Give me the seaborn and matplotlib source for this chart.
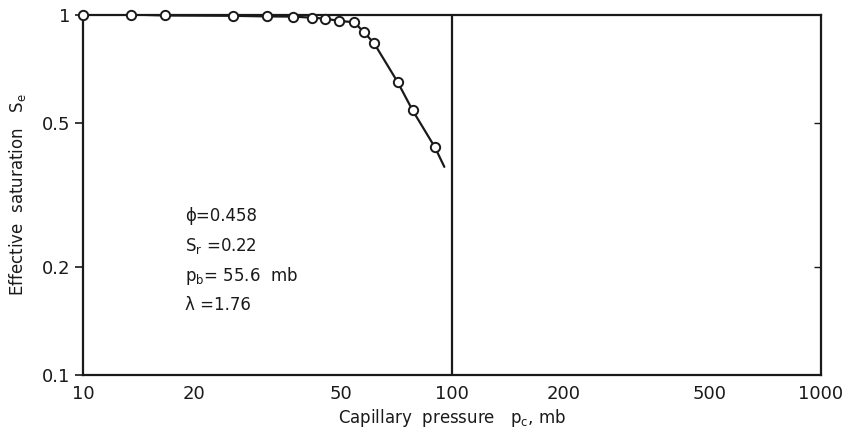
import matplotlib
matplotlib.use("Agg")
import matplotlib.pyplot as plt
import seaborn as sns
import pandas as pd

# Measured data (capillary pressure in mb, effective saturation)
pressure = [10.0, 13.5, 16.7, 25.5, 31.6, 37.1, 41.8, 45.3, 49.5, 54.3, 57.8, 61.5, 71.2, 78.2, 89.9]
saturation = [1.0, 1.0, 0.994, 0.992, 0.988, 0.987, 0.980, 0.974, 0.960, 0.952, 0.892, 0.832, 0.650, 0.542, 0.428]

# Drawn curve (through the points, extended slightly beyond the last one)
curve_p = pressure + [95.3]
curve_s = saturation + [0.378]

x_ticks = [10, 20, 50, 100, 200, 500, 1000]
x_tick_labels = ["10", "20", "50", "100", "200", "500", "1000"]
y_ticks = [0.1, 0.2, 0.5, 1.0]
y_tick_labels = ["0.1", "0.2", "0.5", "1"]
ref_pressure = 100

params = ["ϕ=0.458", r"S$_\mathrm{r}$ =0.22", r"p$_\mathrm{b}$= 55.6  mb", "λ =1.76"]

sns.set_theme(style="white")
plt.rcParams["font.family"] = ["DejaVu Sans"]
plt.rcParams["mathtext.fontset"] = "dejavusans"

ink = "#1a1a1a"
fig = plt.figure(figsize=(8.64, 4.34), dpi=100)
ax = fig.add_axes([0.0961, 0.1359, 0.8542, 0.8306])

df_pts = pd.DataFrame({"p": pressure, "s": saturation})
df_curve = pd.DataFrame({"p": curve_p, "s": curve_s})

sns.lineplot(data=df_curve, x="p", y="s", ax=ax, color=ink, linewidth=1.6,
             sort=False, estimator=None, zorder=2)
sns.scatterplot(data=df_pts, x="p", y="s", ax=ax, s=45, facecolor="white",
                edgecolor=ink, linewidth=1.4, zorder=3, clip_on=False)

ax.axvline(ref_pressure, color=ink, linewidth=1.6, zorder=1)

ax.set_xscale("log")
ax.set_yscale("log")
ax.set_xlim(10, 1000)
ax.set_ylim(0.1, 1.0)

ax.set_xticks(x_ticks)
ax.set_xticklabels(x_tick_labels)
ax.xaxis.set_minor_locator(matplotlib.ticker.NullLocator())
ax.set_yticks(y_ticks)
ax.set_yticklabels(y_tick_labels)
ax.yaxis.set_minor_locator(matplotlib.ticker.NullLocator())

ax.tick_params(axis="x", length=0, pad=7, labelsize=13, colors=ink)
ax.tick_params(axis="y", which="major", length=6, width=1.2, direction="out",
               left=True, right=False, pad=3, labelsize=13, colors=ink)

# inward ticks on right side
ax2 = ax.twinx()
ax2.set_yscale("log")
ax2.set_ylim(0.1, 1.0)
ax2.set_yticks([0.2, 0.5])
ax2.yaxis.set_minor_locator(matplotlib.ticker.NullLocator())
ax2.tick_params(axis="y", length=5, width=1.0, direction="in", labelright=False,
                colors=ink)
ax2.grid(False)
for sp in ax2.spines.values():
    sp.set_visible(False)

for sp in ax.spines.values():
    sp.set_color(ink)
    sp.set_linewidth(1.6)

ax.set_xlabel(r"Capillary  pressure   p$_\mathrm{c}$, mb", fontsize=12, color=ink, labelpad=3)
ax.set_ylabel(r"Effective  saturation   S$_\mathrm{e}$", fontsize=12, color=ink, labelpad=10)

y_px = [216, 246, 276, 305]
H = 434
for txt, yp in zip(params, y_px):
    fig.text(185 / 864, 1 - yp / H, txt, fontsize=12, color=ink, va="center", ha="left")

ax.grid(False)
fig.savefig("out.png", dpi=100, facecolor="white")
